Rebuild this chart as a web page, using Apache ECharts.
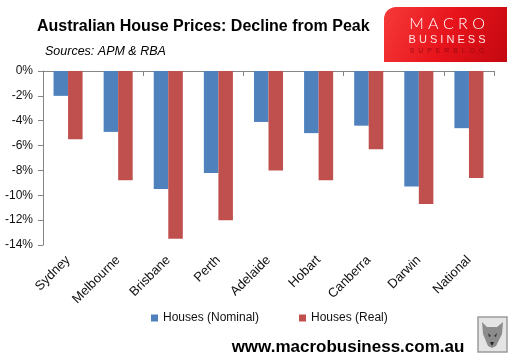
<!DOCTYPE html>
<html>
<head>
<meta charset="utf-8">
<script src="https://cdn.jsdelivr.net/npm/echarts@6/dist/echarts.min.js"></script>
<style>html,body{margin:0;padding:0;background:#fff}#c{width:515px;height:362px}</style>
</head>
<body>
<div id="c"></div>
<script>
var categories = ['Sydney','Melbourne','Brisbane','Perth','Adelaide','Hobart','Canberra','Darwin','National'];
var nominal = [-2.0, -4.9, -9.5, -8.2, -4.1, -5.0, -4.4, -9.3, -4.6];
var real = [-5.5, -8.8, -13.5, -12.0, -8.0, -8.8, -6.3, -10.7, -8.6];
var seriesNames = ['Houses (Nominal)', 'Houses (Real)'];
var yMin = -14, yMax = 0, yStep = 2;

var chart = echarts.init(document.getElementById('c'), null, {renderer: 'canvas'});
var font = 'Liberation Sans, Arial, sans-serif';
chart.setOption({
  animation: false,
  backgroundColor: '#ffffff',
  grid: {left: 43, right: 21, top: 71, bottom: 117, containLabel: false},
  legend: {
    data: seriesNames, left: 146, top: 307, icon: 'rect', itemWidth: 7, itemHeight: 7,
    itemGap: 40, textStyle: {fontFamily: font, fontSize: 12, color: '#111'}
  },
  xAxis: [{
    type: 'category', data: categories, position: 'top',
    axisLine: {onZero: true, lineStyle: {color: '#868686', width: 1}},
    axisTick: {show: true, inside: true, length: 5, lineStyle: {color: '#868686'}},
    axisLabel: {show: false}, splitLine: {show: false}
  }, {
    type: 'category', data: categories, position: 'bottom',
    axisLine: {show: false, onZero: false}, axisTick: {show: false},
    axisLabel: {rotate: 45, margin: 13, fontFamily: font, fontSize: 13, color: '#111'}
  }],
  yAxis: {
    type: 'value', min: yMin, max: yMax, interval: yStep,
    axisLine: {show: true, lineStyle: {color: '#868686'}},
    axisTick: {show: true, length: 5, lineStyle: {color: '#868686'}},
    splitLine: {show: false},
    axisLabel: {margin: 10, fontFamily: font, fontSize: 12, color: '#111', formatter: function (v) { return v + '%'; }}
  },
  series: [{
    name: seriesNames[0], type: 'bar', data: nominal, xAxisIndex: 0,
    itemStyle: {color: '#4F81BD'}, barGap: '0%', barCategoryGap: '42%'
  }, {
    name: seriesNames[1], type: 'bar', data: real, xAxisIndex: 0,
    itemStyle: {color: '#C0504D'}, barGap: '0%', barCategoryGap: '42%'
  }],
  graphic: [
    {type: 'text', left: 37, top: 19, style: {text: 'Australian House Prices: Decline from Peak', font: 'bold 16px ' + font, fill: '#000'}},
    {type: 'text', left: 45, top: 45, style: {text: 'Sources: APM & RBA', font: 'italic 12.5px ' + font, fill: '#000'}},
    {type: 'rect', shape: {x: 384, y: 7, width: 123, height: 55, r: [12, 0, 0, 0]},
      style: {fill: {type: 'linear', x: 0, y: 0, x2: 1, y2: 1, colorStops: [{offset: 0, color: '#f53a3a'}, {offset: 0.5, color: '#e8141c'}, {offset: 1, color: '#c40810'}]}}},
    {type: 'text', x: 447, y: 24, style: {text: 'M A C R O', font: '300 16px Lato, ' + font, fill: '#fff', align: 'center', verticalAlign: 'middle'}},
    {type: 'text', x: 447, y: 40, style: {text: 'B U S I N E S S', font: '11px ' + font, fill: '#fde0e0', align: 'center', verticalAlign: 'middle'}},
    {type: 'text', x: 447, y: 51, style: {text: 'S  U  P  E  R  B  L  O  G', font: '7px ' + font, fill: '#9c0a10', align: 'center', verticalAlign: 'middle'}},
    {type: 'text', x: 348, y: 347, style: {text: 'www.macrobusiness.com.au', font: 'bold 17px ' + font, fill: '#000', align: 'center', verticalAlign: 'middle'}},
    {type: 'rect', shape: {x: 478, y: 317, width: 29, height: 35}, style: {fill: '#e4e4e4', stroke: '#9a9a9a', lineWidth: 1.5}},
    {type: 'polygon', shape: {points: [[482,322],[487,327],[497,327],[503,322],[502,334],[496,346],[492,348],[488,346],[483,334]]}, style: {fill: '#8c8c8c'}},
    {type: 'polygon', shape: {points: [[488,333],[491,336],[489,337]]}, style: {fill: '#333'}},
    {type: 'polygon', shape: {points: [[497,333],[494,336],[496,337]]}, style: {fill: '#333'}},
    {type: 'polygon', shape: {points: [[490,342],[494,342],[492,346]]}, style: {fill: '#222'}}
  ]
});
</script>
</body>
</html>
